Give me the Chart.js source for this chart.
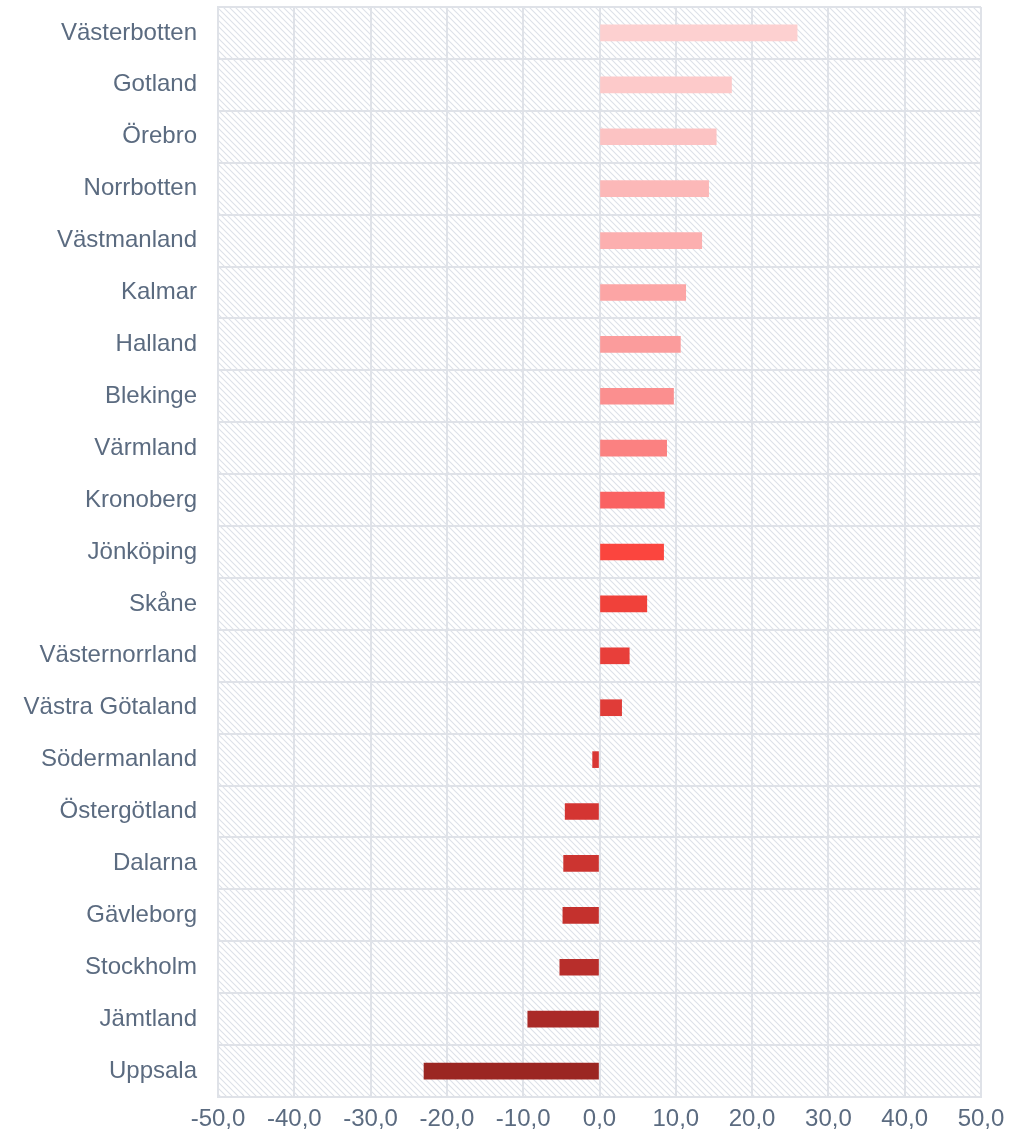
<!DOCTYPE html>
<html>
<head>
<meta charset="utf-8">
<script src="https://cdn.jsdelivr.net/npm/chart.js@4"></script>
<style>
  body { margin: 0; background: #fff; }
  #wrap { width: 1030px; height: 1136px; }
</style>
</head>
<body>
<div id="wrap"><canvas id="chart"></canvas></div>
<script>
const regions = [
  "Västerbotten", "Gotland", "Örebro", "Norrbotten", "Västmanland", "Kalmar",
  "Halland", "Blekinge", "Värmland", "Kronoberg", "Jönköping", "Skåne",
  "Västernorrland", "Västra Götaland", "Södermanland", "Östergötland",
  "Dalarna", "Gävleborg", "Stockholm", "Jämtland", "Uppsala"
];
const changes = [
  25.9, 17.3, 15.3, 14.3, 13.4, 11.3,
  10.6, 9.7, 8.8, 8.5, 8.4, 6.2,
  3.9, 2.9, -0.9, -4.5,
  -4.7, -4.8, -5.2, -9.4, -23.0
];
const barColors = [
  "#fdd0d0", "#fdcaca", "#fcc3c3", "#fcb8b8", "#fcafaf", "#fca5a5",
  "#fb9c9c", "#fb8f8f", "#fb8181", "#fa6262", "#fb453e", "#f0413a",
  "#e83f3a", "#e03c38", "#d93734", "#d43532",
  "#cc3430", "#c4312d", "#b82e2b", "#aa2a27", "#9b2622"
];
const xTicks = [-50, -40, -30, -20, -10, 0, 10, 20, 30, 40, 50];

const gridColor = "#dfe2e8";
const textColor = "#5b6b80";
const fontFamily = "'Liberation Sans', Arial, sans-serif";

// hatch background for the plot area
function makeHatch() {
  const c = document.createElement("canvas");
  c.width = 6;
  c.height = 6;
  const g = c.getContext("2d");
  g.strokeStyle = "#dde1e8";
  g.lineWidth = 1.1;
  g.beginPath();
  g.moveTo(-1, -1); g.lineTo(7, 7);
  g.moveTo(-1, 5); g.lineTo(1, 7);
  g.moveTo(5, -1); g.lineTo(7, 1);
  g.stroke();
  return g.createPattern(c, "repeat");
}

const hatchPlugin = {
  id: "hatch",
  beforeDraw(chart) {
    const a = chart.chartArea;
    const ctx = chart.ctx;
    ctx.save();
    ctx.fillStyle = makeHatch();
    ctx.fillRect(a.left, a.top, a.right - a.left, a.bottom - a.top);
    ctx.restore();
  }
};

const ctx = document.getElementById("chart").getContext("2d");
new Chart(ctx, {
  type: "bar",
  data: {
    labels: regions,
    datasets: [{
      data: changes,
      backgroundColor: barColors,
      barThickness: 16,
      borderWidth: 0
    }]
  },
  options: {
    indexAxis: "y",
    responsive: true,
    maintainAspectRatio: false,
    animation: false,
    layout: { padding: { top: 7, right: 49, left: 0, bottom: 0 } },
    plugins: {
      legend: { display: false },
      tooltip: { enabled: false }
    },
    scales: {
      x: {
        min: -50,
        max: 50,
        afterBuildTicks: (scale) => {
          scale.ticks = xTicks.map((v) => ({ value: v }));
        },
        afterFit: (scale) => { scale.height = 39; },
        grid: { color: gridColor, lineWidth: 2, drawTicks: false },
        border: { color: gridColor, width: 2 },
        ticks: {
          padding: 8,
          color: textColor,
          font: { family: fontFamily, size: 24 },
          callback: (v) => v.toFixed(1).replace(".", ",")
        }
      },
      y: {
        afterFit: (scale) => {
          scale.width = 218;
          scale.paddingTop = 0;
          scale.paddingBottom = 0;
        },
        grid: { color: gridColor, lineWidth: 2, drawTicks: false, offset: true },
        border: { color: gridColor, width: 2 },
        ticks: {
          padding: 21,
          color: textColor,
          font: { family: fontFamily, size: 24 }
        }
      }
    }
  },
  plugins: [hatchPlugin]
});
</script>
</body>
</html>
